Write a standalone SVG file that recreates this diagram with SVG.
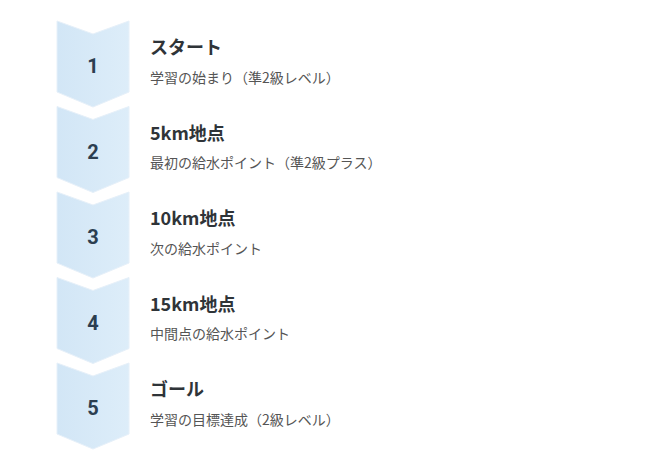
<svg xmlns="http://www.w3.org/2000/svg" width="659" height="454" viewBox="0 0 659 454">
<defs>
<linearGradient id="g" x1="0" y1="0" x2="1" y2="0">
<stop offset="0" stop-color="#d2e6f6"/>
<stop offset="1" stop-color="#ddedf9"/>
</linearGradient>
<style>
.chev{fill:url(#g);stroke:#e6f0f9;stroke-width:1}
.num{font-family:Roboto,"Noto Sans",sans-serif;font-weight:bold;font-size:20px;fill:#2c3e50;text-anchor:middle}
.title{font-family:"Noto Sans CJK JP","Noto Sans",sans-serif;font-weight:bold;font-size:18px;fill:#2f3438}
.sub{font-family:"Noto Sans CJK JP","Noto Sans",sans-serif;font-size:14px;fill:#555}
</style>
</defs>
<rect width="659" height="454" fill="#fff"/>
<g id="step1" transform="translate(0,0)">
<path class="chev" d="M57,21 L93,34 L129,21 L129,92 L93,107 L57,92 Z"/>
<text class="num" x="93" y="73">1</text>
<text class="title" x="150" y="54">スタート</text>
<text class="sub" x="150" y="82.5">学習の始まり（準2級レベル）</text>
</g>
<g id="step2" transform="translate(0,85.5)">
<path class="chev" d="M57,21 L93,34 L129,21 L129,92 L93,107 L57,92 Z"/>
<text class="num" x="93" y="73">2</text>
<text class="title" x="150" y="54">5km地点</text>
<text class="sub" x="150" y="82.5">最初の給水ポイント（準2級プラス）</text>
</g>
<g id="step3" transform="translate(0,171)">
<path class="chev" d="M57,21 L93,34 L129,21 L129,92 L93,107 L57,92 Z"/>
<text class="num" x="93" y="73">3</text>
<text class="title" x="150" y="54">10km地点</text>
<text class="sub" x="150" y="82.5">次の給水ポイント</text>
</g>
<g id="step4" transform="translate(0,256.5)">
<path class="chev" d="M57,21 L93,34 L129,21 L129,92 L93,107 L57,92 Z"/>
<text class="num" x="93" y="73">4</text>
<text class="title" x="150" y="54">15km地点</text>
<text class="sub" x="150" y="82.5">中間点の給水ポイント</text>
</g>
<g id="step5" transform="translate(0,342)">
<path class="chev" d="M57,21 L93,34 L129,21 L129,92 L93,107 L57,92 Z"/>
<text class="num" x="93" y="73">5</text>
<text class="title" x="150" y="54">ゴール</text>
<text class="sub" x="150" y="82.5">学習の目標達成（2級レベル）</text>
</g>
<g id="connectors"/>
</svg>
